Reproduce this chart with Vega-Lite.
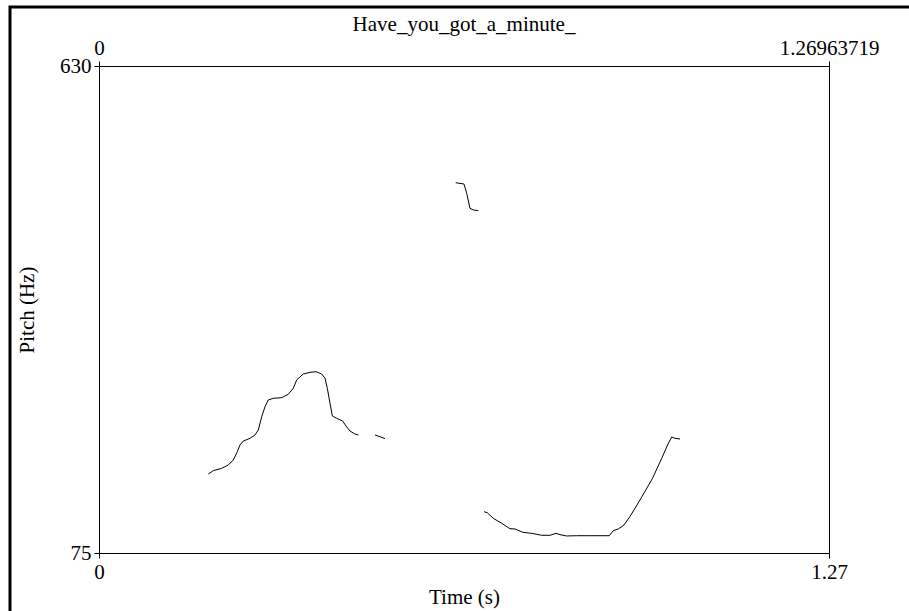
{
  "$schema": "https://vega.github.io/schema/vega-lite/v6.json",
  "width": 730,
  "height": 487,
  "autosize": {"type": "none"},
  "padding": {"left": 99, "top": 66, "right": 80, "bottom": 58},
  "background": "white",
  "title": {
    "text": "Have_you_got_a_minute_",
    "font": "Liberation Serif",
    "fontSize": 21,
    "fontWeight": "normal",
    "color": "black",
    "anchor": "middle",
    "offset": -29
  },
  "datasets": {
    "pitch": [
      {"seg": 1, "t": 0.1901, "f": 165.0},
      {"seg": 1, "t": 0.1988, "f": 168.8},
      {"seg": 1, "t": 0.2134, "f": 171.5},
      {"seg": 1, "t": 0.2249, "f": 175.3},
      {"seg": 1, "t": 0.2336, "f": 181.0},
      {"seg": 1, "t": 0.2405, "f": 190.4},
      {"seg": 1, "t": 0.2452, "f": 198.1},
      {"seg": 1, "t": 0.2510, "f": 202.6},
      {"seg": 1, "t": 0.2626, "f": 205.7},
      {"seg": 1, "t": 0.2713, "f": 209.5},
      {"seg": 1, "t": 0.2771, "f": 215.2},
      {"seg": 1, "t": 0.2830, "f": 230.3},
      {"seg": 1, "t": 0.2887, "f": 241.7},
      {"seg": 1, "t": 0.2944, "f": 249.4},
      {"seg": 1, "t": 0.3031, "f": 251.3},
      {"seg": 1, "t": 0.3178, "f": 252.0},
      {"seg": 1, "t": 0.3292, "f": 255.9},
      {"seg": 1, "t": 0.3379, "f": 262.7},
      {"seg": 1, "t": 0.3438, "f": 272.2},
      {"seg": 1, "t": 0.3553, "f": 279.0},
      {"seg": 1, "t": 0.3670, "f": 280.9},
      {"seg": 1, "t": 0.3774, "f": 281.6},
      {"seg": 1, "t": 0.3873, "f": 279.0},
      {"seg": 1, "t": 0.3931, "f": 274.1},
      {"seg": 1, "t": 0.3971, "f": 262.7},
      {"seg": 1, "t": 0.4018, "f": 245.6},
      {"seg": 1, "t": 0.4058, "f": 231.1},
      {"seg": 1, "t": 0.4134, "f": 228.5},
      {"seg": 1, "t": 0.4238, "f": 225.4},
      {"seg": 1, "t": 0.4296, "f": 219.7},
      {"seg": 1, "t": 0.4365, "f": 214.0},
      {"seg": 1, "t": 0.4452, "f": 210.6},
      {"seg": 1, "t": 0.4510, "f": 209.5},
      {"seg": 2, "t": 0.4800, "f": 209.5},
      {"seg": 2, "t": 0.4887, "f": 207.5},
      {"seg": 2, "t": 0.4974, "f": 205.3},
      {"seg": 3, "t": 0.6204, "f": 497.0},
      {"seg": 3, "t": 0.6348, "f": 495.5},
      {"seg": 3, "t": 0.6395, "f": 484.9},
      {"seg": 3, "t": 0.6452, "f": 467.8},
      {"seg": 3, "t": 0.6510, "f": 465.9},
      {"seg": 3, "t": 0.6597, "f": 465.1},
      {"seg": 4, "t": 0.6696, "f": 122.1},
      {"seg": 4, "t": 0.6753, "f": 120.9},
      {"seg": 4, "t": 0.6858, "f": 114.5},
      {"seg": 4, "t": 0.7004, "f": 108.8},
      {"seg": 4, "t": 0.7148, "f": 102.7},
      {"seg": 4, "t": 0.7235, "f": 102.4},
      {"seg": 4, "t": 0.7369, "f": 98.6},
      {"seg": 4, "t": 0.7526, "f": 97.4},
      {"seg": 4, "t": 0.7700, "f": 95.2},
      {"seg": 4, "t": 0.7844, "f": 95.2},
      {"seg": 4, "t": 0.7948, "f": 97.4},
      {"seg": 4, "t": 0.8018, "f": 95.9},
      {"seg": 4, "t": 0.8134, "f": 94.4},
      {"seg": 4, "t": 0.8308, "f": 94.7},
      {"seg": 4, "t": 0.8540, "f": 94.7},
      {"seg": 4, "t": 0.8875, "f": 94.7},
      {"seg": 4, "t": 0.8945, "f": 100.4},
      {"seg": 4, "t": 0.9032, "f": 102.4},
      {"seg": 4, "t": 0.9131, "f": 106.9},
      {"seg": 4, "t": 0.9235, "f": 116.6},
      {"seg": 4, "t": 0.9409, "f": 135.4},
      {"seg": 4, "t": 0.9627, "f": 160.1},
      {"seg": 4, "t": 0.9787, "f": 182.9},
      {"seg": 4, "t": 0.9896, "f": 199.2},
      {"seg": 4, "t": 0.9961, "f": 207.2},
      {"seg": 4, "t": 1.0018, "f": 205.7},
      {"seg": 4, "t": 1.0105, "f": 204.9}
    ]
  },
  "data": {"name": "pitch"},
  "layer": [
    {
      "mark": {"type": "line", "color": "black", "strokeWidth": 1, "interpolate": "linear"},
      "encoding": {
        "x": {
          "field": "t",
          "type": "quantitative",
          "scale": {"domain": [0, 1.26963719], "nice": false, "zero": false},
          "axis": {
            "orient": "bottom",
            "title": "Time (s)",
            "values": [0, 1.26963719],
            "format": ".3~g",
            "titlePadding": 4
          }
        },
        "y": {
          "field": "f",
          "type": "quantitative",
          "scale": {"domain": [75, 630], "nice": false, "zero": false},
          "axis": {
            "orient": "left",
            "title": "Pitch (Hz)",
            "values": [75, 630],
            "format": "d",
            "titlePadding": 22
          }
        },
        "detail": {"field": "seg", "type": "nominal"}
      }
    },
    {
      "mark": {"type": "point", "opacity": 0},
      "encoding": {
        "x": {
          "field": "t",
          "type": "quantitative",
          "axis": {
            "orient": "top",
            "title": null,
            "values": [0, 1.26963719],
            "format": ".9~g"
          }
        },
        "y": {"field": "f", "type": "quantitative", "axis": null}
      }
    },
    {
      "data": {"values": [{}]},
      "mark": {"type": "rect", "fill": null, "stroke": "black", "strokeWidth": 3, "clip": false},
      "encoding": {
        "x": {"datum": -0.1548, "type": "quantitative", "axis": null},
        "x2": {"datum": 1.43},
        "y": {"datum": 697.2, "type": "quantitative", "axis": null},
        "y2": {"datum": -5}
      }
    }
  ],
  "resolve": {"axis": {"x": "independent", "y": "independent"}},
  "config": {
    "view": {"stroke": "black", "strokeWidth": 1},
    "axis": {
      "labelFont": "Liberation Serif",
      "labelFontSize": 21,
      "labelColor": "black",
      "titleFont": "Liberation Serif",
      "titleFontSize": 21,
      "titleFontWeight": "normal",
      "titleColor": "black",
      "tickColor": "black",
      "tickSize": 5,
      "tickWidth": 1,
      "domain": false,
      "grid": false,
      "labelFlush": false,
      "labelOverlap": false,
      "labelBound": false,
      "labelPadding": 3
    }
  }
}
